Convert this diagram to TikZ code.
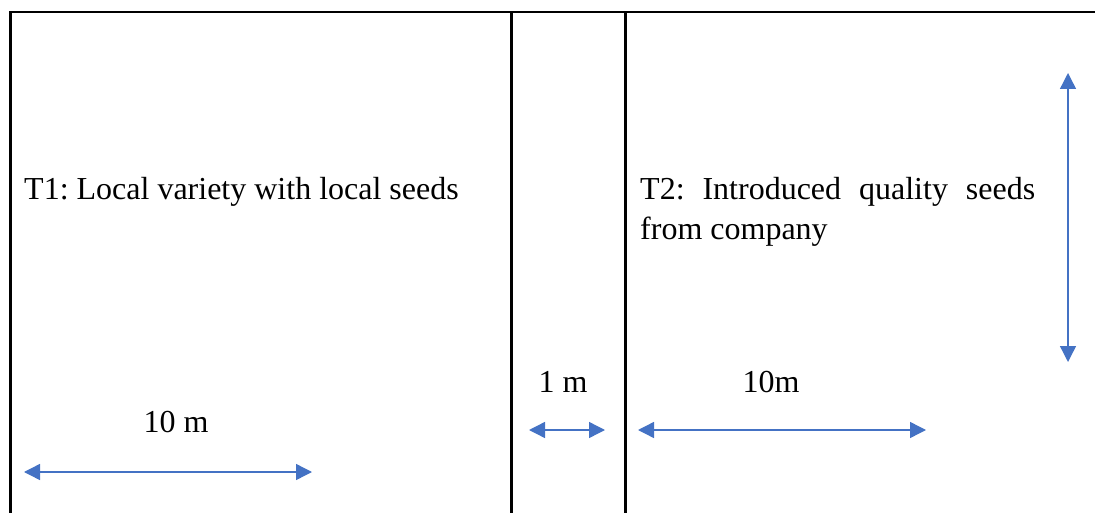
\documentclass[tikz,border=0pt]{standalone}
\usepackage{fontspec}
\setmainfont{Liberation Serif}
\usetikzlibrary{arrows.meta}
\definecolor{dimblue}{HTML}{4472C4}
\tikzset{
  plotline/.style={line width=2.2pt, black},
  dimarrow/.style={dimblue, line width=1.4pt,
    {Triangle[length=16pt,width=16pt]}-{Triangle[length=16pt,width=16pt]}},
  lbl/.style={inner sep=0pt, font=\fontsize{32}{40}\selectfont\frenchspacing}
}
\begin{document}
\begin{tikzpicture}[x=1pt,y=-1pt]
\useasboundingbox (0,0) rectangle (1095,513);
% plot borders
\draw[plotline] (10.5,513) -- (10.5,12) -- (1095,12);
\draw[plotline] (511.5,12) -- (511.5,513);
\draw[plotline] (625.5,12) -- (625.5,513);
% treatment labels
\node[lbl, anchor=base west] (t1) at (24,200) {T1: Local variety with local seeds};
\node[lbl, anchor=base west] (t2) at (640,200)
  {\parbox[t]{395pt}{\frenchspacing T2: Introduced quality seeds\linebreak from company}};
% dimension labels
\node[lbl, anchor=base] (w1) at (176,432) {10 m};
\node[lbl, anchor=base] (gap) at (563,392) {1 m};
\node[lbl, anchor=base] (w2) at (771,392) {10m};
% dimension arrows
\coordinate (a1) at (24,472);  \coordinate (b1) at (312,472);
\coordinate (a2) at (529,430); \coordinate (b2) at (605,430);
\coordinate (a3) at (638,430); \coordinate (b3) at (926,430);
\coordinate (a4) at (1068,73); \coordinate (b4) at (1068,362);
\draw[dimarrow] (a1) -- (b1);
\draw[dimarrow] (a2) -- (b2);
\draw[dimarrow] (a3) -- (b3);
\draw[dimarrow] (a4) -- (b4);
\end{tikzpicture}
\end{document}
